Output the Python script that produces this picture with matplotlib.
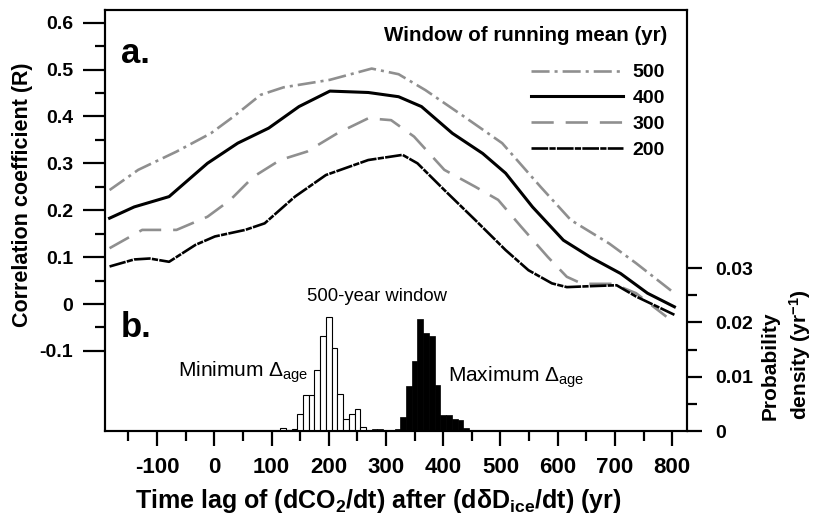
import matplotlib
matplotlib.use('Agg')
import matplotlib.pyplot as plt
from matplotlib import font_manager as fm

# ---------------- data ----------------
lag_500 = [-183, -133, -66, -6, 34, 81, 121, 202, 275, 322, 369, 436, 503, 570, 623, 690, 737, 804]
r_500 = [0.243, 0.286, 0.325, 0.364, 0.400, 0.446, 0.462, 0.478, 0.502, 0.490, 0.456, 0.400, 0.343,
         0.250, 0.179, 0.129, 0.087, 0.023]

lag_400 = [-183, -140, -79, -12, 41, 95, 148, 202, 269, 322, 362, 416, 469, 509, 556, 610, 657, 710, 757, 804]
r_400 = [0.183, 0.207, 0.229, 0.300, 0.343, 0.375, 0.421, 0.454, 0.451, 0.442, 0.421, 0.364, 0.321,
         0.279, 0.207, 0.136, 0.100, 0.065, 0.023, -0.006]

lag_300 = [-183, -126, -66, -12, 28, 68, 115, 162, 215, 269, 309, 349, 402, 456, 496, 536, 583, 616,
           643, 697, 737, 790]
r_300 = [0.119, 0.158, 0.158, 0.186, 0.222, 0.271, 0.307, 0.325, 0.364, 0.396, 0.392, 0.357, 0.286,
         0.250, 0.222, 0.165, 0.100, 0.058, 0.043, 0.043, 0.023, -0.027]

lag_200 = [-183, -140, -113, -79, -33, 1, 54, 88, 141, 195, 269, 329, 355, 402, 456, 509, 549, 590,
           616, 657, 703, 737, 804]
r_200 = [0.080, 0.095, 0.097, 0.090, 0.126, 0.144, 0.158, 0.172, 0.229, 0.275, 0.307, 0.318, 0.300,
         0.243, 0.179, 0.115, 0.072, 0.044, 0.036, 0.038, 0.040, 0.016, -0.023]

min_bin_left = [115, 125, 135, 145, 155, 165, 175, 185, 195, 205, 215, 225, 235, 245, 255]
min_density = [0.0006, 0.0002, 0.0004, 0.0032, 0.0066, 0.0066, 0.0112, 0.0174, 0.0209, 0.0152,
               0.0069, 0.0023, 0.0031, 0.0041, 0.0007]

max_bin_left = [265, 275, 285, 295, 305, 315, 325, 335, 345, 355, 365, 375, 385, 395, 405, 415,
                425, 435, 445]
max_density = [0.0001, 0.0003, 0.0003, 0.0002, 0.0001, 0.0004, 0.0026, 0.0082, 0.0129, 0.0207,
               0.0180, 0.0174, 0.0085, 0.0029, 0.0030, 0.0023, 0.0020, 0.0005, 0.0002]

x_ticks = [-100, 0, 100, 200, 300, 400, 500, 600, 700, 800]
x_minor = [-150, -50, 50, 150, 250, 350, 450, 550, 650, 750]
r_ticks = [-0.1, 0, 0.1, 0.2, 0.3, 0.4, 0.5, 0.6]
r_tick_labels = ['-0.1', '0', '0.1', '0.2', '0.3', '0.4', '0.5', '0.6']
r_minor = [-0.05, 0.05, 0.15, 0.25, 0.35, 0.45, 0.55]
p_ticks = [0, 0.01, 0.02, 0.03]
p_tick_labels = ['0', '0.01', '0.02', '0.03']
p_minor = [0.005, 0.015, 0.025]

# ---------------- style ----------------
names = {f.name for f in fm.fontManager.ttflist}
HAS_NARROW = 'Liberation Sans Narrow' in names
NARROW = 'Liberation Sans Narrow' if HAS_NARROW else 'Liberation Sans'
XT_SIZE = 17 if HAS_NARROW else 16

plt.rcParams['font.family'] = ['Liberation Sans', 'DejaVu Sans']
plt.rcParams['mathtext.fontset'] = 'custom'
plt.rcParams['mathtext.rm'] = 'Liberation Sans'
plt.rcParams['mathtext.it'] = 'Liberation Sans:italic'
plt.rcParams['mathtext.bf'] = 'Liberation Sans:bold'
plt.rcParams['lines.scale_dashes'] = False

GRAY = '#8f8f8f'
W, H = 816, 515
fig = plt.figure(figsize=(W / 100, H / 100), dpi=100)
ax = fig.add_axes([105 / W, 84 / H, 582 / W, 421 / H])
ax2 = ax.twinx()

ax.set_xlim(-191, 826)
ax.set_ylim(-0.2708, 0.6269)
ax2.set_ylim(0, 0.0775)

# histograms
ax2.bar(min_bin_left, min_density, width=10, align='edge', color='white', edgecolor='black',
        linewidth=0.8, zorder=2)
ax2.bar(max_bin_left, max_density, width=10, align='edge', color='black', edgecolor='black',
        linewidth=0.5, zorder=2)

# curves
ax.plot(lag_500, r_500, color=GRAY, lw=1.9, dashes=(13, 3.6, 2.2, 3.6), label='500')
ax.plot(lag_400, r_400, color='black', lw=2.2, label='400')
ax.plot(lag_300, r_300, color=GRAY, lw=1.9, dashes=(16, 8.6), label='300')
ax.plot(lag_200, r_200, color='black', lw=1.9, dashes=(12, 0.9, 4.5, 0.9), label='200')

# axes styling
for s in ax.spines.values():
    s.set_linewidth(1.5)
for s in ax2.spines.values():
    s.set_linewidth(1.5)

ax.set_xticks(x_ticks)
ax.set_xticks(x_minor, minor=True)
ax.set_xticklabels([str(v) for v in x_ticks], fontfamily=[NARROW, 'Liberation Sans'],
                   fontweight='bold', fontsize=XT_SIZE)
ax.set_yticks(r_ticks)
ax.set_yticks(r_minor, minor=True)
ax.set_yticklabels(r_tick_labels, fontweight='bold', fontsize=14)
ax.tick_params(axis='both', which='major', direction='out', length=11, width=1.6)
ax.tick_params(axis='both', which='minor', direction='out', length=7, width=1.6)
ax.tick_params(axis='x', which='major', pad=8)
ax.tick_params(axis='y', which='major', pad=7, length=16)
ax.tick_params(right=False, top=False, which='both')

ax2.set_yticks(p_ticks)
ax2.set_yticks(p_minor, minor=True)
ax2.set_yticklabels(p_tick_labels, fontweight='bold', fontsize=14)
ax2.tick_params(axis='y', which='major', direction='out', length=11, width=1.6, pad=9)
ax2.tick_params(axis='y', which='minor', direction='out', length=7, width=1.6)

# texts
ax.text(-163, 0.514, 'a.', fontsize=25, fontweight='bold', va='baseline', ha='left')
ax.text(-163, -0.070, 'b.', fontsize=25, fontweight='bold', va='baseline', ha='left')
ax.text(284, 0.017, '500-year window', fontsize=13.3, ha='center', va='center')
ax.text(-63, -0.155, r'Minimum $\Delta_{\mathrm{age}}$', fontsize=15, ha='left', va='baseline')
ax.text(409, -0.166, r'Maximum $\Delta_{\mathrm{age}}$', fontsize=15, ha='left', va='baseline')
ax.text(791, 0.561, 'Window of running mean (yr)', fontsize=14.8, fontweight='bold',
        ha='right', va='baseline')

leg = ax.legend(loc='upper right', bbox_to_anchor=(0.962, 0.872), frameon=False,
                prop={'weight': 'bold', 'size': 14}, handlelength=4.7, handletextpad=0.5,
                labelspacing=0.42, borderpad=0, borderaxespad=0)

fig.text(23 / W, 1 - 195 / H, 'Correlation coefficient (R)', rotation=90, fontsize=15.5,
         fontweight='bold', ha='center', va='center')
fig.text(787 / W, 1 - 420 / H, 'Probability\ndensity (yr$^{\\mathbf{-1}}$)', rotation=90,
         fontsize=15, fontweight='bold', ha='center', va='bottom', multialignment='left',
         linespacing=1.4)
fig.text(378 / W, 7 / H, r'Time lag of (dCO$_{\mathbf{2}}$/dt) after (d$\mathbf{\delta}$D$_{\mathbf{ice}}$/dt) (yr)',
         fontsize=18, fontweight='bold', family=[NARROW, 'Liberation Sans'], ha='center', va='baseline')

fig.savefig('out.png', dpi=100)
